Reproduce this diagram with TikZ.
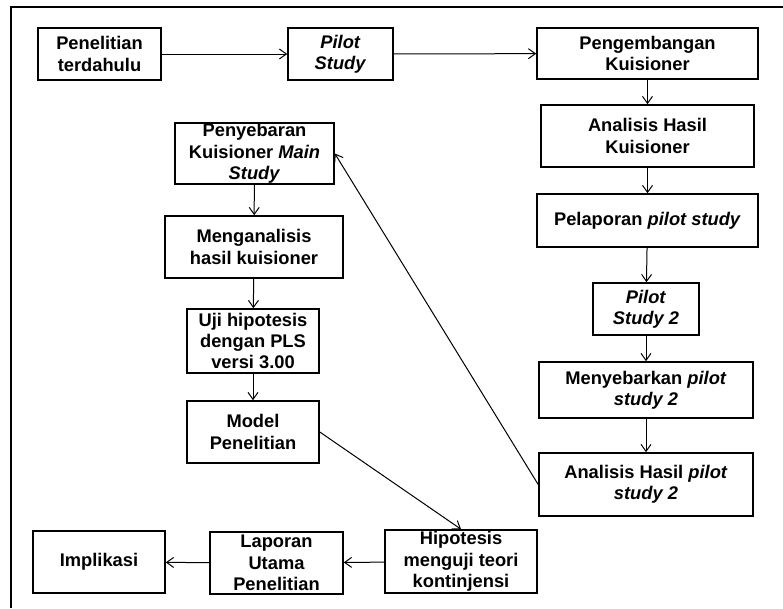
\documentclass[tikz,border=0pt]{standalone}
\usepackage{fontspec}
\setmainfont{Liberation Sans}
\usetikzlibrary{arrows.meta}
\tikzset{
  box/.style={draw=black, line width=1.6pt, align=center, inner sep=0pt,
    font=\fontsize{18.3}{21.3}\selectfont\bfseries},
  flow/.style={draw=black, line width=1pt, -{Straight Barb[length=7pt,width=10pt]}},
  frame/.style={draw=black, line width=2pt}
}
\begin{document}
\begin{tikzpicture}[x=1pt,y=-1pt]
\useasboundingbox (0,0) rectangle (783,608);
\coordinate (fr) at (11,608);
\coordinate (ftl) at (11,7);
\coordinate (ftr) at (783,7);
\draw[frame] (fr) -- (ftl) -- (ftr);

\node[box, minimum width=123pt, minimum height=52pt] (pen) at (99.5,54) {Penelitian\\terdahulu};
\node[box, minimum width=105pt, minimum height=52pt] (pilot) at (340.5,54) {\textit{Pilot}\\\textit{Study}};
\node[box, minimum width=221pt, minimum height=51pt] (peng) at (647.5,53.5) {Pengembangan\\Kuisioner};
\node[box, minimum width=213pt, minimum height=62pt] (anal) at (647.5,136) {Analisis Hasil\\Kuisioner};
\node[box, minimum width=221pt, minimum height=53pt] (pelap) at (647.5,220.5) {Pelaporan \textit{pilot study}};
\node[box, minimum width=106pt, minimum height=52pt] (pilottwo) at (646,309) {\textit{Pilot}\\\textit{Study 2}};
\node[box, minimum width=214pt, minimum height=56pt] (menyeb) at (646,390) {Menyebarkan \textit{pilot}\\\textit{study 2}};
\node[box, minimum width=214pt, minimum height=63pt] (analp) at (646,484.5) {Analisis Hasil \textit{pilot}\\\textit{study 2}};
\node[box, minimum width=152pt, minimum height=63pt] (hip) at (461,561.5) {Hipotesis\\menguji teori\\kontinjensi};
\node[box, minimum width=133pt, minimum height=62pt] (lap) at (276.5,563) {Laporan\\Utama\\Penelitian};
\node[box, minimum width=132pt, minimum height=62pt] (impl) at (99,562) {Implikasi};
\node[box, minimum width=159pt, minimum height=61pt] (peny) at (254.5,153.5) {Penyebaran\\Kuisioner \textit{Main}\\\textit{Study}};
\node[box, minimum width=178pt, minimum height=62pt] (mengan) at (254,247) {Menganalisis\\hasil kuisioner};
\node[box, minimum width=132pt, minimum height=64pt] (uji) at (253,341) {Uji hipotesis\\dengan PLS\\versi 3.00};
\node[box, minimum width=132pt, minimum height=62pt] (model) at (253,432) {Model\\Penelitian};

\draw[flow] (pen) -- (pilot);
\draw[flow] (pilot) -- (peng);
\draw[flow] (peng) -- (anal);
\draw[flow] (anal) -- (pelap);
\draw[flow] (pelap) -- (pilottwo);
\draw[flow] (pilottwo) -- (menyeb);
\draw[flow] (menyeb) -- (analp);
\draw[flow] (analp.west) -- (peny.east);
\draw[flow] (peny) -- (mengan);
\draw[flow] (mengan) -- (uji);
\draw[flow] (uji) -- (model);
\draw[flow] (model.east) -- (hip.north);
\draw[flow] (hip) -- (lap);
\draw[flow] (lap) -- (impl);
\end{tikzpicture}
\end{document}
